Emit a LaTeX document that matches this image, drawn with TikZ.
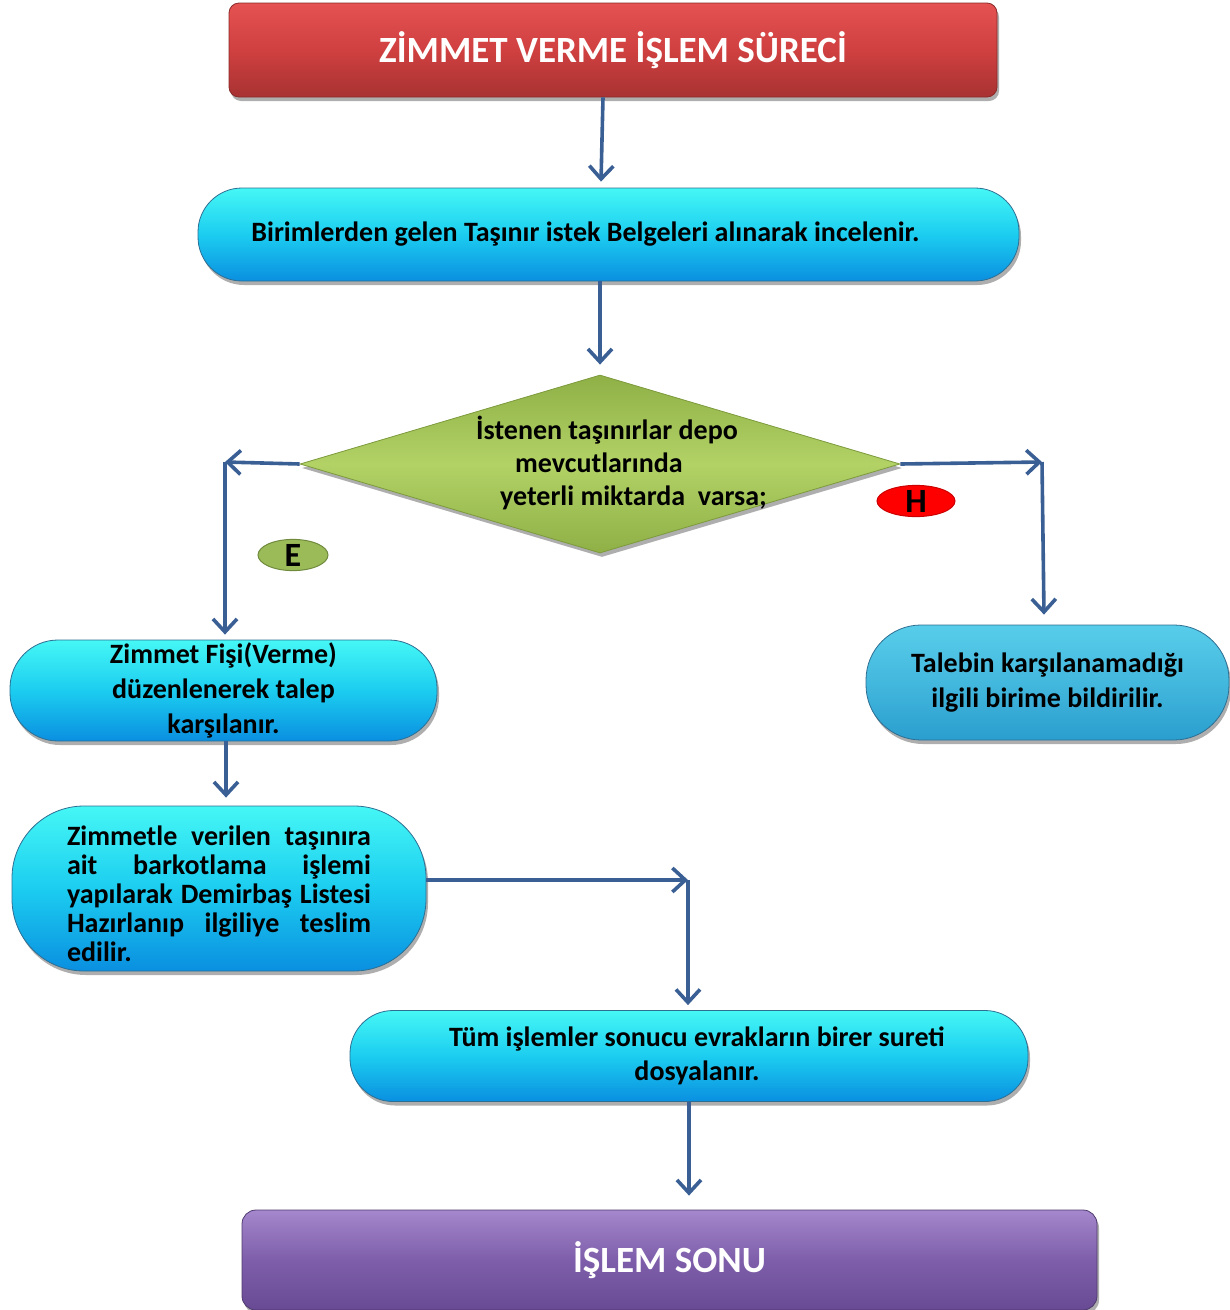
\documentclass[tikz,border=0pt]{standalone}
\usepackage{fontspec}
\setmainfont{Carlito}
\usetikzlibrary{shapes.geometric, arrows.meta, shadows}

\definecolor{arrowblue}{HTML}{3A5F94}
\definecolor{redTop}{HTML}{E55252}
\definecolor{redMid}{HTML}{D04040}
\definecolor{redBot}{HTML}{A83232}
\definecolor{redEdge}{HTML}{8A2A2A}
\definecolor{cyanTop}{HTML}{45F7F5}
\definecolor{cyanMid}{HTML}{1CCDF0}
\definecolor{cyanBot}{HTML}{0A8FE0}
\definecolor{cyanEdge}{HTML}{2E6E92}
\definecolor{skyTop}{HTML}{58CDEA}
\definecolor{skyBot}{HTML}{2A9ECE}
\definecolor{greenTop}{HTML}{B2D266}
\definecolor{greenBot}{HTML}{8FB046}
\definecolor{greenEdge}{HTML}{7C9A3C}
\definecolor{eFill}{HTML}{9BBB59}
\definecolor{eEdge}{HTML}{6F8A3D}
\definecolor{purpTop}{HTML}{A487CC}
\definecolor{purpMid}{HTML}{7E5EAA}
\definecolor{purpBot}{HTML}{684A94}
\definecolor{purpEdge}{HTML}{4E3A6E}

\tikzset{
  shade/.style={drop shadow={shadow xshift=2pt, shadow yshift=-4pt, opacity=0.45, fill=black!70}},
  headbox/.style={shade, rounded corners=10pt, draw=redEdge, line width=0.8pt,
    top color=redTop, bottom color=redBot, middle color=redMid,
    text=white, font=\fontsize{37}{42}\selectfont\bfseries, inner sep=0pt},
  endbox/.style={shade, rounded corners=14pt, draw=purpEdge, line width=0.8pt,
    top color=purpTop, bottom color=purpBot, middle color=purpMid,
    text=white, font=\fontsize{37}{42}\selectfont\bfseries, inner sep=0pt},
  pill/.style={shade, rounded corners=#1, draw=cyanEdge, line width=0.8pt,
    top color=cyanTop, bottom color=cyanBot, middle color=cyanMid,
    font=\fontsize{28}{35}\selectfont\bfseries, align=center, inner sep=0pt},
  skypill/.style={pill=#1, top color=skyTop, bottom color=skyBot, middle color=skyTop!55!skyBot},
  decision/.style={shade, diamond, draw=greenEdge, line width=0.8pt,
    top color=greenBot, bottom color=greenBot, middle color=greenTop,
    inner sep=0pt, minimum width=600pt, minimum height=178pt},
  tag/.style={ellipse, line width=1pt, inner sep=0pt,
    font=\fontsize{34}{34}\selectfont\bfseries},
  arr/.style={draw=arrowblue, line width=3.6pt,
    -{Straight Barb[length=13pt, width=24pt]}}
}

\begin{document}
\begin{tikzpicture}[x=1pt, y=-1pt]
\useasboundingbox (0,0) rectangle (1230,1310);

% process boxes
\node[headbox, minimum width=768pt, minimum height=94pt] (title) at (613,50)
  {\raisebox{-2pt}{ZİMMET VERME İŞLEM SÜRECİ}};

\node[pill=44pt, minimum width=821pt, minimum height=93pt] (req) at (608.5,234.5)
  {Birimlerden gelen Taşınır istek Belgeleri alınarak incelenir.\hspace*{46pt}};

\node[decision] (dec) at (600,464) {};
\node[font=\fontsize{28}{33}\selectfont\bfseries, align=left, anchor=west, inner sep=0pt]
  (q) at (476,463)
  {İstenen taşınırlar depo\\
   \hspace*{39pt}mevcutlarında\\
   \hspace*{24pt}yeterli miktarda\ \ varsa;};

\node[pill=48pt, minimum width=427pt, minimum height=101pt] (give) at (223.5,690.5)
  {Zimmet Fişi(Verme)\\ düzenlenerek talep\\ karşılanır.};

\node[skypill=55pt, minimum width=363pt, minimum height=115pt] (deny) at (1047.5,682.5)
  {Talebin karşılanamadığı\\ ilgili birime bildirilir.};

\node[pill=72pt, minimum width=414pt, minimum height=165pt, text width=304pt,
      align=left, font=\fontsize{28}{29}\selectfont\bfseries] (bar) at (219,888.5)
  {\hbox to 304pt{Zimmetle\hfill verilen\hfill taşınıra}
   \hbox to 304pt{ait\hfill barkotlama\hfill işlemi}
   \hbox to 304pt{yapılarak\hfill Demirbaş\hfill Listesi}
   \hbox to 304pt{Hazırlanıp\hfill ilgiliye\hfill teslim}
   \hbox to 304pt{edilir.\hfill}\vspace*{-10pt}};

\node[pill=43pt, minimum width=678pt, minimum height=91pt, font=\fontsize{28}{34}\selectfont\bfseries]
  (file) at (689,1056)
  {\hspace*{16pt}Tüm işlemler sonucu evrakların birer sureti\\ \hspace*{16pt}dosyalanır.};

\node[endbox, minimum width=855pt, minimum height=100pt] (done) at (669.5,1260)
  {\raisebox{-2pt}{İŞLEM SONU}};

% branch tags
\node[tag, draw=eEdge, fill=eFill, minimum width=70pt, minimum height=31pt] (yes) at (293,555)
  {\raisebox{-2pt}{E}};
\node[tag, draw=red!80!black, fill=red, minimum width=78pt, minimum height=30pt] (no) at (916,501)
  {\raisebox{-6pt}{H}};

% corner points of the branches
\coordinate (cl) at (225,462);
\coordinate (cr) at (1042,462);
\coordinate (cm) at (688,880);

% connectors
\draw[arr] ([xshift=-10pt]title.south) -- ([xshift=-7.5pt,yshift=6pt]req.north);
\draw[arr] ([xshift=-8.5pt]req.south) -- ([yshift=10pt]dec.north);

\draw[arr] (dec.west) -- (cl);
\draw[arr] (cl) -- ([xshift=1.5pt,yshift=5pt]give.north);

\draw[arr] (dec.east) -- (cr);
\draw[arr] (cr) -- ([xshift=-3.5pt,yshift=10pt]deny.north);

\draw[arr] ([xshift=2.5pt]give.south) -- ([xshift=7pt,yshift=8pt]bar.north);

\draw[arr] (bar.east |- cm) -- (cm);
\draw[arr] (cm) -- ([xshift=-1pt,yshift=5pt]file.north);

\draw[arr] (file.south) -- ([yshift=14pt]file.south |- done.north);
\end{tikzpicture}
\end{document}
